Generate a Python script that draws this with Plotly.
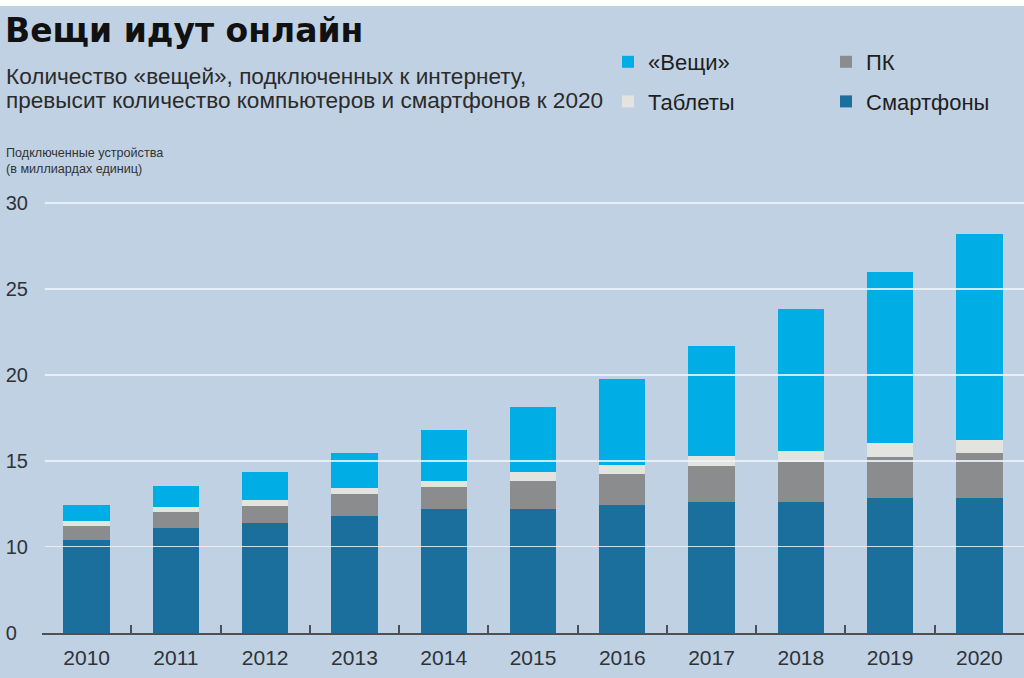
import plotly.graph_objects as go

years = ['2010', '2011', '2012', '2013', '2014', '2015', '2016', '2017', '2018', '2019', '2020']
smartphones = [10.41, 11.12, 11.41, 11.80, 12.23, 12.19, 12.44, 12.62, 12.62, 12.83, 12.83]
pcs = [0.83, 0.91, 0.97, 1.28, 1.28, 1.67, 1.80, 2.11, 2.30, 2.39, 2.62]
tablets = [0.27, 0.28, 0.35, 0.37, 0.33, 0.48, 0.53, 0.58, 0.68, 0.81, 0.77]
things = [0.93, 1.25, 1.61, 2.03, 2.96, 3.78, 5.02, 6.38, 8.22, 9.98, 11.98]

names = ['Смартфоны', 'ПК', 'Таблеты', '«Вещи»']
colors = ['#1b6f9d', '#8a8c8e', '#e3e4df', '#00aee6']
legend_ids = ['legend2', 'legend2', 'legend', 'legend']
legend_ranks = [2, 1, 2, 1]
series = [smartphones, pcs, tablets, things]

low_ticks = [0]
high_ticks = [10, 15, 20, 25, 30]

BG = '#c0d1e3'
W, H = 1024, 678
ML, MR, MT, MB = 42, 0, 196, 45
plot_h = H - MT - MB
split = 86 / plot_h

fig = go.Figure()
for vals, name, col, lg, rk in zip(series, names, colors, legend_ids, legend_ranks):
    for yax, show in (('y', False), ('y2', True)):
        fig.add_trace(go.Bar(
            x=years, y=vals, name=name, marker=dict(color=col, line=dict(width=0)),
            xaxis='x', yaxis=yax, showlegend=show, legend=lg, legendrank=rk,
            legendgroup=name,
        ))

font_main = 'Liberation Sans, Arial, sans-serif'

shapes = []
for v in high_ticks:
    shapes.append(dict(type='line', xref='paper', yref='y2', x0=0.003, x1=1.0, y0=v, y1=v,
                       line=dict(color='rgba(236,244,252,0.85)', width=2), layer='above'))
shapes.append(dict(type='rect', xref='paper', yref='paper', x0=-1, x1=2,
                   y0=1 + (MT - 6) / plot_h, y1=1 + MT / plot_h + 0.1,
                   fillcolor='white', line=dict(width=0), layer='below'))

def px(x):
    return (x - ML) / (W - ML - MR)

def py(y):
    return (H - MB - y) / plot_h

annotations = [
    dict(text='Количество «вещей», подключенных к интернету,', x=px(4), y=py(76),
         xref='paper', yref='paper', xanchor='left', yanchor='middle', showarrow=False,
         font=dict(family=font_main, size=22.6, color='#2b2b2b')),
    dict(text='превысит количество компьютеров и смартфонов к 2020', x=px(4), y=py(101),
         xref='paper', yref='paper', xanchor='left', yanchor='middle', showarrow=False,
         font=dict(family=font_main, size=22.6, color='#2b2b2b')),
    dict(text='Подключенные устройства<br>(в миллиардах единиц)', x=px(4), y=py(161),
         xref='paper', yref='paper', xanchor='left', yanchor='middle', align='left', showarrow=False,
         font=dict(family=font_main, size=12.6, color='#333333')),
]

fig.update_layout(
    width=W, height=H,
    margin=dict(l=ML, r=MR, t=MT, b=MB, autoexpand=False),
    paper_bgcolor=BG, plot_bgcolor=BG,
    barmode='stack', bargap=0.48,
    title=dict(text='<b>Вещи идут онлайн</b>', x=5 / W, xanchor='left', xref='container',
               y=1 - 30 / H, yanchor='middle', yref='container',
               font=dict(family='DejaVu Sans, sans-serif', size=33, color='#111111')),
    xaxis=dict(type='category', range=[-0.5, 10.5], showgrid=False, showline=True,
               linecolor='#4d5055', linewidth=2, ticks='inside', tickson='boundaries',
               ticklen=8, tickwidth=1.5, tickcolor='#4d5055', anchor='y', layer='above traces',
               tickangle=0, automargin=False,
               tickfont=dict(family=font_main, size=21, color='#2e3338'), ticklabelstandoff=5),
    yaxis=dict(domain=[0, split], range=[0, 10], tickvals=low_ticks,
               ticktext=[str(t) + '\u00a0\u00a0' for t in low_ticks],
               showgrid=False, zeroline=False, showline=False, ticks='', anchor='x',
               ticklabelstandoff=13, automargin=False,
               tickfont=dict(family=font_main, size=20, color='#2e3338')),
    yaxis2=dict(domain=[split, 1], range=[10, 30.4], tickvals=high_ticks,
                ticktext=[str(t) for t in high_ticks],
                showgrid=False, zeroline=False, showline=False, ticks='', anchor='x',
                ticklabelstandoff=13, automargin=False,
                tickfont=dict(family=font_main, size=20, color='#2e3338')),
    legend=dict(xref='container', yref='container', x=608 / W, y=1 - 41 / H,
                xanchor='left', yanchor='top', bgcolor='rgba(0,0,0,0)', borderwidth=0,
                tracegroupgap=8, itemwidth=30, traceorder='grouped',
                font=dict(family=font_main, size=22, color='#1e1e1e')),
    legend2=dict(xref='container', yref='container', x=826 / W, y=1 - 41 / H,
                 xanchor='left', yanchor='top', bgcolor='rgba(0,0,0,0)', borderwidth=0,
                 tracegroupgap=8, itemwidth=30, traceorder='grouped',
                 font=dict(family=font_main, size=22, color='#1e1e1e')),
    shapes=shapes,
    annotations=annotations,
)

fig.write_html('out.html')
